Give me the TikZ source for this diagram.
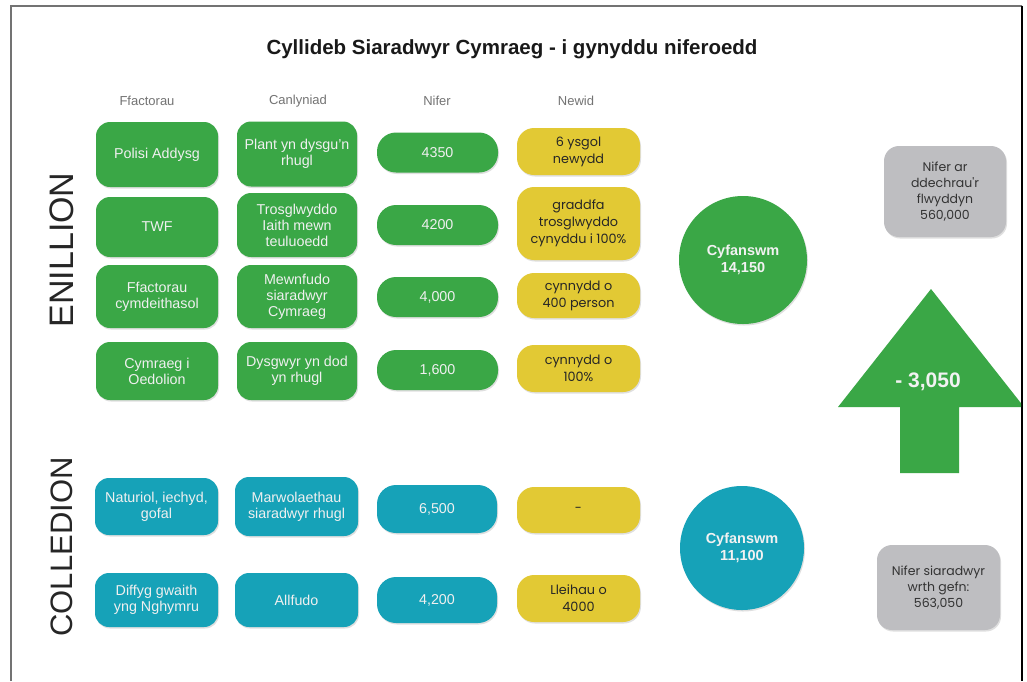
\documentclass[tikz,border=0pt]{standalone}
\usepackage{fontspec}
\setmainfont{Liberation Sans}
\newfontfamily\geo{Poppins}
\usetikzlibrary{shadows}
\definecolor{cgreen}{RGB}{58,167,70}
\definecolor{cteal}{RGB}{22,162,184}
\definecolor{cyellow}{RGB}{226,201,52}
\definecolor{cgrey}{RGB}{190,190,193}
\begin{document}
\begin{tikzpicture}[x=1pt,y=-1pt,
  box/.style={rounded corners=14pt, align=center, inner sep=2pt,
    text=white!94!black, font=\fontsize{14.3}{16}\selectfont,
    drop shadow={opacity=0.25, shadow xshift=1pt, shadow yshift=-1.5pt}},
  gbox/.style={box, fill=cgreen},
  tbox/.style={box, fill=cteal},
  pill/.style={rounded corners=19pt},
  ybox/.style={box, fill=cyellow, text=black!85, font=\geo\fontsize{12.8}{17}\selectfont, rounded corners=17pt},
  greybox/.style={box, fill=cgrey, text=black!80, font=\geo\fontsize{12.5}{16.2}\selectfont, rounded corners=15pt},
  hdr/.style={font=\fontsize{13}{15}\selectfont, text=black!55},
  side/.style={text=black!85, rotate=90},
  tot/.style={circle, inner sep=0pt, align=center, text=white!95!black,
    font=\bfseries\fontsize{14.5}{17}\selectfont,
    drop shadow={opacity=0.25, shadow xshift=1pt, shadow yshift=-1.5pt}}
]
\useasboundingbox (0,0) rectangle (1027,681);
\fill[white] (0,0) rectangle (1027,681);

% border
\draw[line width=2pt, black!55] (10.5,681) -- (10.5,5.5) -- (1022,5.5);
\draw[line width=1.6pt, black] (1022,5.5) -- (1022,681);

% title
\node[font=\bfseries\fontsize{20.5}{23}\selectfont, text=black!90] (title) at (512,49) {Cyllideb Siaradwyr Cymraeg - i gynyddu niferoedd};

% headers
\node[hdr] (h1) at (147,101) {Ffactorau};
\node[hdr] (h2) at (298,101) {Canlyniad};
\node[hdr] (h3) at (437,101) {Nifer};
\node[hdr] (h4) at (576,101) {Newid};

% side labels
\node[side, font=\fontsize{34}{36}\selectfont] (enill) at (62,250) {ENILLION};
\node[side, font=\fontsize{31}{33}\selectfont] (coll) at (62,547) {COLLEDION};

% gains column 1
\node[gbox, minimum width=122pt, minimum height=65pt] (a1) at (157,154.5) {Polisi Addysg};
\node[gbox, minimum width=122pt, minimum height=60pt] (a2) at (157,227) {TWF};
\node[gbox, minimum width=122pt, minimum height=63pt] (a3) at (157,296.5) {Ffactorau\\cymdeithasol};
\node[gbox, minimum width=122pt, minimum height=58pt] (a4) at (157,371) {Cymraeg i\\Oedolion};
% gains column 2
\node[gbox, minimum width=120pt, minimum height=65pt] (b1) at (297,154) {Plant yn dysgu'n\\rhugl};
\node[gbox, minimum width=120pt, minimum height=64pt] (b2) at (297,225) {Trosglwyddo\\Iaith mewn\\teuluoedd};
\node[gbox, minimum width=120pt, minimum height=63pt] (b3) at (297,296.5) {Mewnfudo\\siaradwyr\\Cymraeg};
\node[gbox, minimum width=120pt, minimum height=58pt] (b4) at (297,371) {Dysgwyr yn dod\\yn rhugl};
% gains column 3
\node[gbox, pill, minimum width=121pt, minimum height=40pt] (c1) at (437.5,152.5) {4350};
\node[gbox, pill, minimum width=121pt, minimum height=40pt] (c2) at (437.5,225) {4200};
\node[gbox, pill, minimum width=121pt, minimum height=40pt] (c3) at (437.5,297) {4,000};
\node[gbox, pill, minimum width=121pt, minimum height=40pt] (c4) at (437.5,370) {1,600};
% gains column 4
\node[ybox, minimum width=123pt, minimum height=47pt] (d1) at (578.5,151.5) {6 ysgol\\newydd};
\node[ybox, minimum width=123pt, minimum height=73pt] (d2) at (578.5,223.5) {graddfa\\trosglwyddo\\cynyddu i 100\%};
\node[ybox, minimum width=123pt, minimum height=45pt] (d3) at (578.5,295.5) {cynnydd o\\400 person};
\node[ybox, minimum width=123pt, minimum height=47pt] (d4) at (578.5,368.5) {cynnydd o\\100\%};

% losses
\node[tbox, minimum width=123pt, minimum height=57pt] (e1) at (156.5,506.5) {Naturiol, iechyd,\\gofal};
\node[tbox, minimum width=123pt, minimum height=54pt] (e2) at (156.5,600) {Diffyg gwaith\\yng Nghymru};
\node[tbox, minimum width=123pt, minimum height=59pt] (f1) at (296.5,506.5) {Marwolaethau\\siaradwyr rhugl};
\node[tbox, minimum width=123pt, minimum height=54pt] (f2) at (296.5,600) {Allfudo};
\node[tbox, pill, minimum width=120pt, minimum height=48pt] (g1) at (437,509) {6,500};
\node[tbox, pill, minimum width=120pt, minimum height=46pt] (g2) at (437,600) {4,200};
\node[ybox, minimum width=123pt, minimum height=46pt] (k1) at (578.5,510) {-};
\node[ybox, minimum width=123pt, minimum height=47pt] (k2) at (578.5,598.5) {Lleihau o\\4000};

% totals
\node[tot, fill=cgreen, minimum size=128pt] (t1) at (743,260) {Cyfanswm\\14,150};
\node[tot, fill=cteal, minimum size=124pt] (t2) at (742,548) {Cyfanswm\\11,100};

% grey boxes
\node[greybox, minimum width=122pt, minimum height=91pt] (s1) at (945,191.5) {Nifer ar\\ddechrau'r\\flwyddyn\\560,000};
\node[greybox, minimum width=123pt, minimum height=85pt] (s2) at (938.5,587.5) {Nifer siaradwyr\\wrth gefn:\\563,050};

% arrow
\begin{scope}
\clip (0,0) rectangle (1021,681);
\fill[cgreen] (931,289) -- (1024,407) -- (959,407) -- (959,473) -- (900,473) -- (900,407) -- (838,407) -- cycle;
\end{scope}
\node[font=\bfseries\fontsize{21}{24}\selectfont, text=white!95!black] (diff) at (928,382) {- 3,050};
\end{tikzpicture}
\end{document}
